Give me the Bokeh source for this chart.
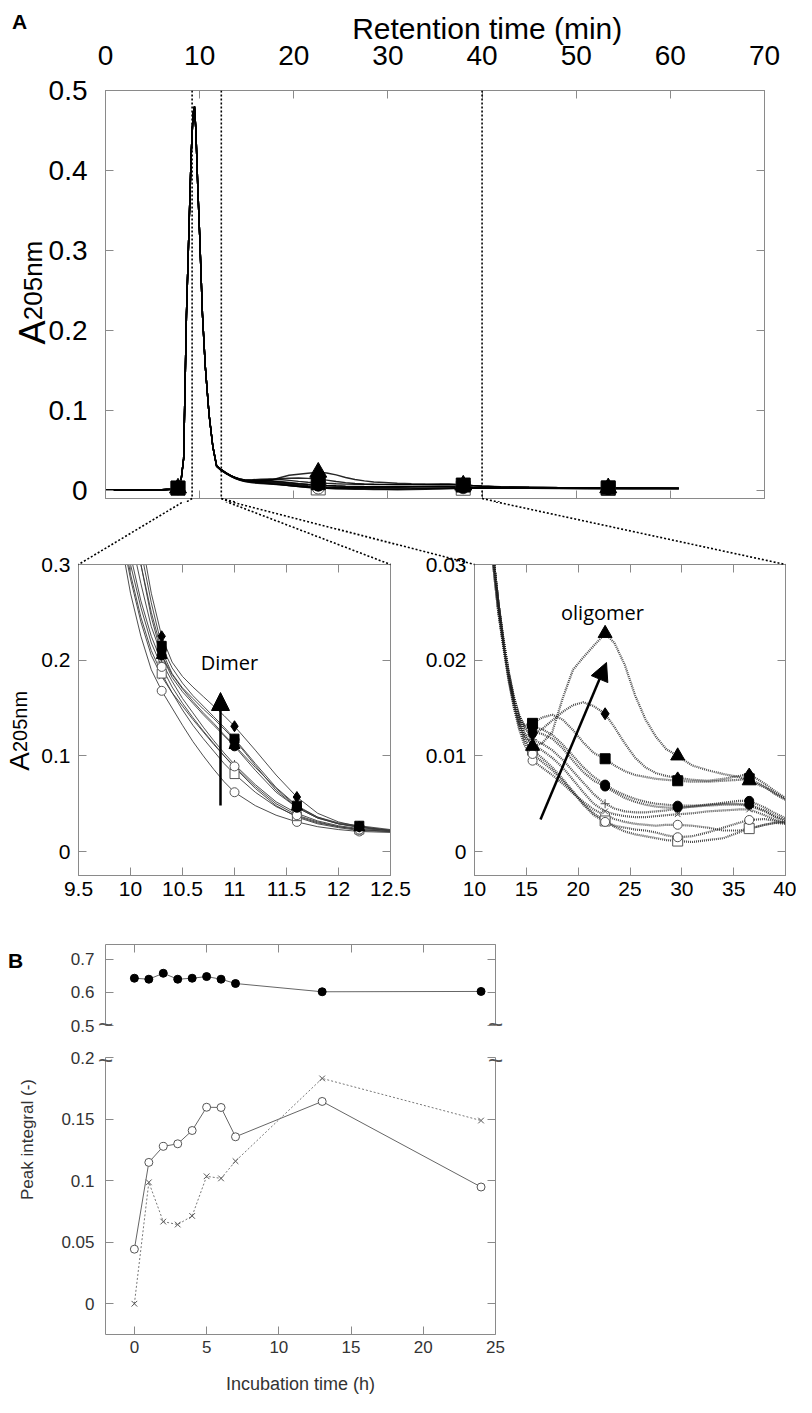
import math
from bokeh.plotting import figure
from bokeh.models import Range1d, LinearAxis, FixedTicker, Span, Arrow, NormalHead
from bokeh.layouts import column, row
from bokeh.embed import file_html
from bokeh.resources import INLINE
from bokeh.core.properties import value

# ---------------------------------------------------------------- data
# Panel A (top): main peak region, shared by all traces (min, A205nm)
peak_time = [0, 3, 6, 7.0, 7.7, 8.0, 8.3, 8.6, 8.9, 9.1, 9.3, 9.45, 9.6, 9.8, 10.0, 10.3, 10.6, 11.0, 11.4]
peak_abs = [0.001, 0.001, 0.001, 0.0015, 0.003, 0.010, 0.040, 0.220, 0.340, 0.420, 0.470, 0.480, 0.450, 0.380, 0.320, 0.220, 0.155, 0.095, 0.055]

# Panel A, dimer zoom (9.5-12.5 min)
dimer_time = [9.8, 9.9, 10.0, 10.1, 10.2, 10.3, 10.4, 10.5, 10.6, 10.7, 10.8, 10.9, 11.0, 11.2, 11.4, 11.6, 11.8, 12.0, 12.2, 12.5]
dimer_oc1 = [0.40, 0.33, 0.27, 0.225, 0.19, 0.168, 0.150, 0.132, 0.115, 0.100, 0.086, 0.073, 0.062, 0.048, 0.038, 0.031, 0.026, 0.023, 0.021, 0.020]
dimer_x = [0.40, 0.34, 0.285, 0.24, 0.205, 0.183, 0.166, 0.152, 0.138, 0.125, 0.112, 0.100, 0.088, 0.066, 0.048, 0.036, 0.029, 0.025, 0.022, 0.021]
dimer_plus = [0.43, 0.37, 0.31, 0.262, 0.225, 0.198, 0.178, 0.160, 0.145, 0.130, 0.116, 0.103, 0.091, 0.070, 0.052, 0.040, 0.032, 0.027, 0.024, 0.022]
dimer_os = [0.41, 0.35, 0.29, 0.245, 0.21, 0.186, 0.166, 0.148, 0.132, 0.118, 0.105, 0.092, 0.081, 0.062, 0.047, 0.037, 0.030, 0.026, 0.023, 0.021]
dimer_oc2 = [0.42, 0.36, 0.30, 0.255, 0.218, 0.193, 0.172, 0.155, 0.140, 0.126, 0.113, 0.100, 0.089, 0.068, 0.050, 0.038, 0.031, 0.026, 0.023, 0.021]
dimer_fc1 = [0.50, 0.43, 0.36, 0.30, 0.245, 0.205, 0.182, 0.167, 0.155, 0.143, 0.132, 0.121, 0.110, 0.085, 0.062, 0.046, 0.035, 0.029, 0.026, 0.022]
dimer_fc2 = [0.48, 0.42, 0.355, 0.30, 0.25, 0.21, 0.186, 0.171, 0.160, 0.149, 0.139, 0.128, 0.117, 0.090, 0.064, 0.046, 0.035, 0.029, 0.026, 0.022]
dimer_fs = [0.52, 0.45, 0.38, 0.315, 0.26, 0.215, 0.192, 0.176, 0.163, 0.152, 0.141, 0.130, 0.118, 0.092, 0.067, 0.048, 0.036, 0.030, 0.027, 0.023]
dimer_fd = [0.55, 0.47, 0.40, 0.33, 0.27, 0.225, 0.198, 0.183, 0.172, 0.162, 0.152, 0.142, 0.131, 0.106, 0.080, 0.057, 0.040, 0.031, 0.026, 0.022]
dimer_ft = [0.45, 0.39, 0.33, 0.28, 0.235, 0.205, 0.185, 0.170, 0.157, 0.145, 0.134, 0.122, 0.111, 0.088, 0.066, 0.047, 0.036, 0.029, 0.025, 0.022]

# Panel A, oligomer zoom (10-40 min)
olig_time = [11.8, 12.3, 12.8, 13.3, 13.8, 14.3, 14.8, 15.6, 16.5, 17.5, 18.5, 19.5, 20.5, 21.5, 22.6,
             23.5, 24.5, 25.5, 26.5, 27.5, 28.5, 29.6, 31, 32.5, 34, 35.5, 36.5, 38, 39, 40]
olig_ft = [0.031, 0.026, 0.0218, 0.0184, 0.0158, 0.0138, 0.0122, 0.0110, 0.0113, 0.0125, 0.0160, 0.0190, 0.0203, 0.0215, 0.0228,
           0.0218, 0.0195, 0.0163, 0.0138, 0.0120, 0.0107, 0.0100, 0.0090, 0.0085, 0.0081, 0.0078, 0.0074, 0.0067, 0.0061, 0.0055]
olig_fd = [0.031, 0.026, 0.0220, 0.0186, 0.0160, 0.0141, 0.0128, 0.0122, 0.0128, 0.0137, 0.0146, 0.0153, 0.0156, 0.0152, 0.0144,
           0.0130, 0.0113, 0.0098, 0.0088, 0.0082, 0.0079, 0.0077, 0.0075, 0.0074, 0.0076, 0.0079, 0.0081, 0.0071, 0.0063, 0.0056]
olig_fs = [0.031, 0.026, 0.0222, 0.0188, 0.0162, 0.0143, 0.0132, 0.0134, 0.0140, 0.0143, 0.0138, 0.0127, 0.0114, 0.0103, 0.0097,
           0.0090, 0.0084, 0.0080, 0.0078, 0.0076, 0.0075, 0.0074, 0.0073, 0.0073, 0.0074, 0.0075, 0.0076, 0.0068, 0.0060, 0.0054]
olig_fc1 = [0.031, 0.026, 0.0220, 0.0186, 0.0160, 0.0141, 0.0130, 0.0125, 0.0123, 0.0118, 0.0108, 0.0095, 0.0083, 0.0074, 0.0068,
            0.0062, 0.0056, 0.0052, 0.0049, 0.0047, 0.0046, 0.0046, 0.0047, 0.0049, 0.0051, 0.0053, 0.0053, 0.0046, 0.0040, 0.0035]
olig_fc2 = [0.031, 0.026, 0.0221, 0.0187, 0.0161, 0.0142, 0.0131, 0.0130, 0.0128, 0.0122, 0.0112, 0.0100, 0.0088, 0.0078, 0.0070,
            0.0064, 0.0059, 0.0055, 0.0052, 0.0050, 0.0049, 0.0048, 0.0048, 0.0049, 0.0050, 0.0050, 0.0049, 0.0043, 0.0037, 0.0033]
olig_oc1 = [0.030, 0.025, 0.0212, 0.0178, 0.0150, 0.0128, 0.0112, 0.0095, 0.0088, 0.0080, 0.0071, 0.0061, 0.0052, 0.0044, 0.0038,
            0.0034, 0.0031, 0.0029, 0.0028, 0.0027, 0.0028, 0.0028, 0.0027, 0.0025, 0.0022, 0.0022, 0.0024, 0.0028, 0.0030, 0.0029]
olig_os = [0.030, 0.025, 0.0214, 0.0180, 0.0153, 0.0132, 0.0118, 0.0106, 0.0098, 0.0088, 0.0076, 0.0063, 0.0050, 0.0040, 0.0032,
           0.0026, 0.0021, 0.0018, 0.0016, 0.0014, 0.0012, 0.0011, 0.0010, 0.0012, 0.0014, 0.0020, 0.0024, 0.0028, 0.0030, 0.0031]
olig_x = [0.031, 0.026, 0.0216, 0.0182, 0.0155, 0.0135, 0.0121, 0.0112, 0.0106, 0.0098, 0.0088, 0.0075, 0.0062, 0.0050, 0.0042,
          0.0039, 0.0037, 0.0036, 0.0036, 0.0037, 0.0038, 0.0039, 0.0040, 0.0042, 0.0043, 0.0044, 0.0044, 0.0038, 0.0033, 0.0030]
olig_plus = [0.031, 0.026, 0.0218, 0.0184, 0.0157, 0.0137, 0.0124, 0.0117, 0.0113, 0.0106, 0.0096, 0.0084, 0.0072, 0.0060, 0.0050,
             0.0045, 0.0042, 0.0041, 0.0041, 0.0042, 0.0043, 0.0045, 0.0047, 0.0048, 0.0049, 0.0049, 0.0048, 0.0042, 0.0036, 0.0032]
olig_oc2 = [0.030, 0.025, 0.0214, 0.0180, 0.0152, 0.0131, 0.0116, 0.0102, 0.0094, 0.0085, 0.0074, 0.0062, 0.0049, 0.0038, 0.0031,
            0.0027, 0.0025, 0.0023, 0.0022, 0.0020, 0.0017, 0.0015, 0.0016, 0.0020, 0.0025, 0.0030, 0.0033, 0.0034, 0.0032, 0.0030]

# Panel A (top): late part of the run (40-61 min)
tail_time = [42, 45, 48, 51, 53.4, 56, 58.5, 60.9]
tail_ft = [0.0045, 0.0040, 0.0036, 0.0034, 0.0033, 0.0032, 0.0031, 0.0030]
tail_fd = [0.0046, 0.0041, 0.0037, 0.0035, 0.0034, 0.0033, 0.0032, 0.0031]
tail_fs = [0.0044, 0.0040, 0.0036, 0.0034, 0.0033, 0.0032, 0.0031, 0.0030]
tail_fc1 = [0.0030, 0.0029, 0.0028, 0.0028, 0.0027, 0.0027, 0.0026, 0.0026]
tail_fc2 = [0.0029, 0.0028, 0.0028, 0.0027, 0.0027, 0.0026, 0.0026, 0.0025]
tail_oc1 = [0.0027, 0.0026, 0.0025, 0.0025, 0.0024, 0.0024, 0.0023, 0.0023]
tail_os = [0.0029, 0.0027, 0.0026, 0.0025, 0.0025, 0.0024, 0.0024, 0.0023]
tail_x = [0.0028, 0.0027, 0.0026, 0.0026, 0.0025, 0.0025, 0.0024, 0.0024]
tail_plus = [0.0029, 0.0028, 0.0027, 0.0026, 0.0026, 0.0025, 0.0025, 0.0024]
tail_oc2 = [0.0028, 0.0027, 0.0026, 0.0025, 0.0025, 0.0024, 0.0024, 0.0023]

# Panel B: peak integrals vs incubation time
inc_time = [0, 1, 2, 3, 4, 5, 6, 7, 13, 24]
monomer_int = [0.643, 0.640, 0.658, 0.640, 0.643, 0.648, 0.640, 0.627, 0.602, 0.603]
dimer_int = [0.0443, 0.1148, 0.1278, 0.1299, 0.1407, 0.1596, 0.1594, 0.1356, 0.1643, 0.0948]
oligomer_int = [0.0, 0.0986, 0.0667, 0.0643, 0.0713, 0.1035, 0.1018, 0.1158, 0.183, 0.1488]

# tick values
top_xticks = [0, 10, 20, 30, 40, 50, 60, 70]
top_yticks = [0, 0.1, 0.2, 0.3, 0.4, 0.5]
dim_xticks = [9.5, 10, 10.5, 11, 11.5, 12, 12.5]
dim_yticks = [0, 0.1, 0.2, 0.3]
oli_xticks = [10, 15, 20, 25, 30, 35, 40]
oli_yticks = [0, 0.01, 0.02, 0.03]
b_xticks = [0, 5, 10, 15, 20, 25]
bt_yticks = [0.5, 0.6, 0.7]
bb_yticks = [0, 0.05, 0.1, 0.15, 0.2]
zoom_lines = [9.2, 12.3, 40]   # dotted markers of the zoomed regions (min)

# ---------------------------------------------------------------- traces
SAMPLES = ["oc1", "x", "plus", "os", "oc2", "fc1", "fc2", "fs", "fd", "ft"]
DIMER = dict(oc1=dimer_oc1, x=dimer_x, plus=dimer_plus, os=dimer_os, oc2=dimer_oc2,
             fc1=dimer_fc1, fc2=dimer_fc2, fs=dimer_fs, fd=dimer_fd, ft=dimer_ft)
OLIG = dict(oc1=olig_oc1, x=olig_x, plus=olig_plus, os=olig_os, oc2=olig_oc2,
            fc1=olig_fc1, fc2=olig_fc2, fs=olig_fs, fd=olig_fd, ft=olig_ft)
TAIL = dict(oc1=tail_oc1, x=tail_x, plus=tail_plus, os=tail_os, oc2=tail_oc2,
            fc1=tail_fc1, fc2=tail_fc2, fs=tail_fs, fd=tail_fd, ft=tail_ft)

# ---------------------------------------------------------------- styles
MARKER = dict(oc1="circle", x="x", plus="cross", os="square", oc2="circle",
              fc1="circle", fc2="circle", fs="square", fd="diamond", ft="triangle")
FILLED = dict(oc1=False, x=False, plus=False, os=False, oc2=False,
              fc1=True, fc2=True, fs=True, fd=True, ft=True)
SIZE_SMALL = dict(circle=9, square=9, diamond=11, triangle=11, x=8, cross=9)
SIZE_OLIG = dict(circle=9, square=10, diamond=12, triangle=14, x=8, cross=9)
SIZE_TOP = dict(circle=12, square=14, diamond=14, triangle=17, x=11, cross=11)

FONT = "Liberation Sans"
GRAY = "#8a8a8a"

# page geometry (px, page coordinates incl. 8px body margin)
TOP = dict(l=109, r=772, t=98, b=506)
DIM = dict(l=86, r=398, t=572, b=883)
OLI = dict(l=482, r=793, t=572, b=883)
BT = dict(l=113, r=505, t=952, b=1033)
BB = dict(l=113, r=505, t=1065, b=1342)

TOP_R = ((0, 70), (-0.01, 0.5))
DIM_R = ((9.5, 12.5), (-0.025, 0.3))
OLI_R = ((10, 40), (-0.0025, 0.03))
BT_R = ((-2, 25), (0.5, 0.745))
BB_R = ((-2, 25), (-0.025, 0.2))


def page_to_data(frame, rng, px, py):
    (x0, x1), (y0, y1) = rng
    x = x0 + (px - frame["l"]) / (frame["r"] - frame["l"]) * (x1 - x0)
    y = y1 - (py - frame["t"]) / (frame["b"] - frame["t"]) * (y1 - y0)
    return x, y


def data_to_page(frame, rng, x, y):
    (x0, x1), (y0, y1) = rng
    px = frame["l"] + (x - x0) / (x1 - x0) * (frame["r"] - frame["l"])
    py = frame["t"] + (y1 - y) / (y1 - y0) * (frame["b"] - frame["t"])
    return px, py


def make_fig(frame, rng, px0, py0, px1, py1, outline=True):
    p = figure(width=px1 - px0, height=py1 - py0,
               x_range=Range1d(*rng[0]), y_range=Range1d(*rng[1]),
               output_backend="svg", toolbar_location=None,
               x_axis_location=None, y_axis_location=None,
               min_border_left=frame["l"] - px0, min_border_right=px1 - frame["r"],
               min_border_top=frame["t"] - py0, min_border_bottom=py1 - frame["b"],
               background_fill_color="white", border_fill_color="white")
    p.grid.visible = False
    p.outline_line_color = GRAY if outline else None
    return p


def fmt(t):
    return f"{t:g}"


def add_axis(p, side, ticks, labels=True, size=21, standoff=8, color="black", tick_len=8):
    ax = LinearAxis(ticker=FixedTicker(ticks=ticks))
    ax.axis_line_color = GRAY
    ax.major_tick_line_color = GRAY
    ax.major_tick_in = tick_len
    ax.major_tick_out = 0
    ax.minor_tick_line_color = None
    if labels:
        ax.major_label_overrides = {t: fmt(t) for t in ticks}
        ax.major_label_text_font = FONT
        ax.major_label_text_font_size = f"{size}px"
        ax.major_label_text_color = color
        ax.major_label_standoff = standoff
    else:
        ax.major_label_overrides = {t: "" for t in ticks}
        ax.major_label_text_font_size = "1px"
        ax.major_label_standoff = 0
    p.add_layout(ax, side)
    return ax


def page_text(p, frame, rng, px, py, text, size, font=FONT, align="left", baseline="alphabetic",
              angle=0.0, color="black", style="normal"):
    x, y = page_to_data(frame, rng, px, py)
    p.text(x=[x], y=[y], text=[text], angle=angle, text_font=value(font), text_font_size=f"{size}px",
           text_align=align, text_baseline=baseline, text_color=color, text_font_style=style,
           level="overlay")


def page_segment(p, frame, rng, a, b, dash="2 2", width=1.6):
    x0, y0 = page_to_data(frame, rng, *a)
    x1, y1 = page_to_data(frame, rng, *b)
    p.line([x0, x1], [y0, y1], line_dash=dash, line_width=width, line_color="black", level="overlay")


def draw_markers(p, key, xs, ys, sizes):
    m = MARKER[key]
    if FILLED[key]:
        p.scatter(xs, ys, marker=m, size=sizes[m], fill_color="black", line_color="black")
    else:
        p.scatter(xs, ys, marker=m, size=sizes[m], fill_color="white" if m in ("circle", "square") else None,
                  line_color="#555555", line_width=1)


# ---------------------------------------------------------------- top panel
PAGE_L, PAGE_R = 8, 804
top = make_fig(TOP, TOP_R, PAGE_L, 8, PAGE_R, 510)
add_axis(top, "left", top_yticks, size=28, standoff=18)
add_axis(top, "above", top_xticks, size=28, standoff=26)
add_axis(top, "below", top_xticks, labels=False)
add_axis(top, "right", top_yticks, labels=False)

top_x = peak_time + olig_time + tail_time
top_mark_idx = [4, len(peak_time) + 14, len(peak_time) + 27, len(peak_time) + len(olig_time) + 4]
for key in SAMPLES:
    ys = peak_abs + OLIG[key] + TAIL[key]
    top.line(top_x, ys, line_color="black", line_width=1.4, line_alpha=0.85)
for key in ["oc1", "x", "plus", "os", "oc2", "fc1", "fc2", "fd", "ft", "fs"]:
    ys = peak_abs + OLIG[key] + TAIL[key]
    draw_markers(top, key, [top_x[i] for i in top_mark_idx], [ys[i] for i in top_mark_idx], SIZE_TOP)

for xv in zoom_lines:
    top.add_layout(Span(location=xv, dimension="height", line_dash="2 2", line_width=1.6, line_color="black"))

page_text(top, TOP, TOP_R, 15, 29, "A", 21, style="bold")
page_text(top, TOP, TOP_R, 493, 36, "Retention time (min)", 30, align="center")
# rotated y label "A205nm" (big A, smaller 205nm on the same baseline), centred pieces
page_text(top, TOP, TOP_R, 36, 340, "A", 36, angle=math.pi / 2, align="center")
page_text(top, TOP, TOP_R, 36, 288, "205nm", 26, angle=math.pi / 2, align="center")

# connectors from the top panel down to the two zoom panels
conn = []
for xv, corner in zip([zoom_lines[0], zoom_lines[1], zoom_lines[1], zoom_lines[2]],
                      [(DIM["l"], DIM["t"]), (DIM["r"], DIM["t"]), (OLI["l"], OLI["t"]), (OLI["r"], OLI["t"])]):
    start = data_to_page(TOP, TOP_R, xv, TOP_R[1][0])
    conn.append((start, corner))
for a, b in conn:
    page_segment(top, TOP, TOP_R, a, b)

# ---------------------------------------------------------------- dimer zoom
SPLIT = 428
dim = make_fig(DIM, DIM_R, PAGE_L, 510, SPLIT, 914)
add_axis(dim, "left", dim_yticks, size=21, standoff=8)
add_axis(dim, "below", dim_xticks, size=21, standoff=6)
add_axis(dim, "above", dim_xticks, labels=False)
add_axis(dim, "right", dim_yticks, labels=False)
dim_mark_idx = [5, 12, 15, 18]
for key in SAMPLES:
    dim.line(dimer_time, DIMER[key], line_color="#3a3a3a", line_width=0.9)
for key in SAMPLES:
    ys = DIMER[key]
    draw_markers(dim, key, [dimer_time[i] for i in dim_mark_idx], [ys[i] for i in dim_mark_idx], SIZE_SMALL)
for a, b in conn:
    page_segment(dim, DIM, DIM_R, a, b)
x0, y0 = page_to_data(DIM, DIM_R, 228, 813)
x1, y1 = page_to_data(DIM, DIM_R, 228, 700)
dim.add_layout(Arrow(end=NormalHead(size=18, fill_color="black", line_color="black"),
                     x_start=x0, y_start=y0, x_end=x1, y_end=y1, line_width=2.5, line_color="black"))
page_text(dim, DIM, DIM_R, 237, 670, "Dimer", 20, font="Open Sans", align="center")
page_text(dim, DIM, DIM_R, 27, 769, "A", 28, angle=math.pi / 2, align="center")
page_text(dim, DIM, DIM_R, 27, 729, "205nm", 20, angle=math.pi / 2, align="center")

# ---------------------------------------------------------------- oligomer zoom
oli = make_fig(OLI, OLI_R, SPLIT, 510, PAGE_R, 914)
add_axis(oli, "left", oli_yticks, size=21, standoff=8)
add_axis(oli, "below", oli_xticks, size=21, standoff=6)
add_axis(oli, "above", oli_xticks, labels=False)
add_axis(oli, "right", oli_yticks, labels=False)
oli_mark_idx = [7, 14, 21, 26]
for key in SAMPLES:
    oli.line(olig_time, OLIG[key], line_color="#1e1e1e", line_width=2.2, line_dash="1 1", line_alpha=0.8)
for key in SAMPLES:
    ys = OLIG[key]
    draw_markers(oli, key, [olig_time[i] for i in oli_mark_idx], [ys[i] for i in oli_mark_idx], SIZE_OLIG)
for a, b in conn:
    page_segment(oli, OLI, OLI_R, a, b)
x0, y0 = page_to_data(OLI, OLI_R, 548, 827)
x1, y1 = page_to_data(OLI, OLI_R, 614, 670)
oli.add_layout(Arrow(end=NormalHead(size=18, fill_color="black", line_color="black"),
                     x_start=x0, y_start=y0, x_end=x1, y_end=y1, line_width=2.5, line_color="black"))
page_text(oli, OLI, OLI_R, 610, 620, "oligomer", 20, font="Open Sans", align="center")

# ---------------------------------------------------------------- panel B
BCOL = "#333333"
bt = make_fig(BT, BT_R, PAGE_L, 914, 535, 1049, outline=False)
add_axis(bt, "left", bt_yticks, size=17, standoff=11, color=BCOL)
add_axis(bt, "right", bt_yticks, labels=False)
add_axis(bt, "above", b_xticks, labels=False)
bt.line(inc_time, monomer_int, line_color="#666666", line_width=1)
bt.scatter(inc_time, monomer_int, marker="circle", size=8, fill_color="black", line_color="black")
page_text(bt, BT, BT_R, 15, 968, "B", 21, style="bold")
for px in (BT["l"], BT["r"]):
    page_text(bt, BT, BT_R, px, BT["b"] - 2, "~", 26, align="center", baseline="middle", color="#555555")

bb = make_fig(BB, BB_R, PAGE_L, 1049, 535, 1405, outline=False)
add_axis(bb, "left", bb_yticks, size=17, standoff=11, color=BCOL)
add_axis(bb, "right", bb_yticks, labels=False)
axb = add_axis(bb, "below", b_xticks, size=17, standoff=6, color=BCOL)
axb.axis_label = "Incubation time (h)"
axb.axis_label_text_font = FONT
axb.axis_label_text_font_size = "18px"
axb.axis_label_text_font_style = "normal"
axb.axis_label_text_color = BCOL
axb.axis_label_standoff = 18
bb.line(inc_time, dimer_int, line_color="#666666", line_width=1)
bb.line(inc_time, oligomer_int, line_color="#777777", line_width=1, line_dash="2 2")
bb.scatter(inc_time, dimer_int, marker="circle", size=8, fill_color="white", line_color="#555555")
bb.scatter(inc_time, oligomer_int, marker="x", size=8, line_color="#555555")
for px in (BB["l"], BB["r"]):
    page_text(bb, BB, BB_R, px, BB["t"] + 2, "~", 26, align="center", baseline="middle", color="#555555")
page_text(bb, BB, BB_R, 35, 1147, "Peak integral (-)", 17, angle=math.pi / 2, align="center", color=BCOL)

layout = column(top, row(dim, oli, spacing=0), bt, bb, spacing=0)
open("out.html", "w").write(file_html(layout, INLINE))
